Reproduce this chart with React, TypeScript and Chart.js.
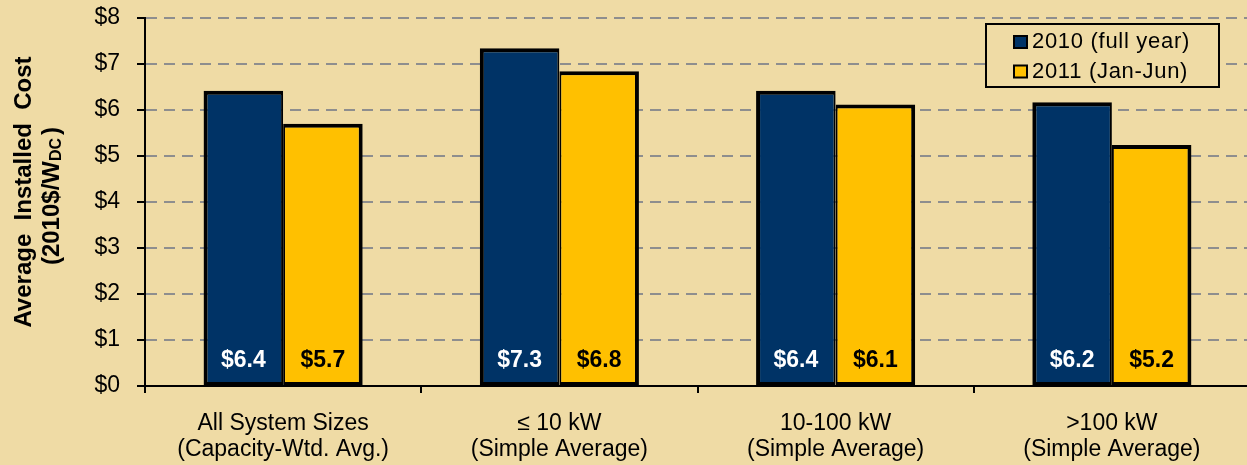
import React, { useEffect, useRef } from 'react';
import { Chart, registerables } from 'chart.js';

Chart.register(...registerables);

// ---- data ----
const categories: string[][] = [
  ['All System Sizes', '(Capacity-Wtd. Avg.)'],
  ['≤ 10 kW', '(Simple Average)'],
  ['10-100 kW', '(Simple Average)'],
  ['>100 kW', '(Simple Average)'],
];
const seriesNames = ['2010 (full year)', '2011 (Jan-Jun)'];
const values2010 = [6.42, 7.34, 6.42, 6.17];
const values2011 = [5.7, 6.84, 6.12, 5.24];
const yTickLabels = ['$0', '$1', '$2', '$3', '$4', '$5', '$6', '$7', '$8'];
const yTitleLine1 = 'Average  Installed  Cost';
const yTitleUnit = ['(2010$/W', 'DC', ')'];

// ---- styles ----
const BG = '#EFDBA5';
const NAVY = '#003366';
const GOLD = '#FFC000';
const GRID = '#8E8E8E';
const LABEL_COLORS = ['#FFFFFF', '#000000'];
const FONT = "'Liberation Sans', Arial, Helvetica, sans-serif";

const valueLabelPlugin = {
  id: 'valueLabels',
  afterDatasetsDraw(chart: any) {
    const { ctx } = chart;
    const yScale = chart.scales.y;
    const y0 = yScale.getPixelForValue(0);
    ctx.save();
    ctx.font = `bold 23px ${FONT}`;
    ctx.textAlign = 'center';
    ctx.textBaseline = 'middle';
    chart.data.datasets.forEach((ds: any, di: number) => {
      const meta = chart.getDatasetMeta(di);
      meta.data.forEach((el: any, i: number) => {
        ctx.fillStyle = LABEL_COLORS[di];
        ctx.fillText('$' + Number(ds.data[i]).toFixed(1), el.x, y0 - 25);
      });
    });
    ctx.restore();
  },
};

const yTitlePlugin = {
  id: 'yTitle',
  afterDraw(chart: any) {
    const { ctx, chartArea } = chart;
    const cy = (chartArea.top + chartArea.bottom) / 2;
    ctx.save();
    ctx.fillStyle = '#000';
    ctx.textBaseline = 'middle';
    // line 1
    ctx.save();
    ctx.translate(24, cy - 10);
    ctx.rotate(-Math.PI / 2);
    ctx.font = `bold 24px ${FONT}`;
    ctx.textAlign = 'center';
    ctx.fillText(yTitleLine1, 0, 0);
    ctx.restore();
    // line 2 with subscript
    ctx.save();
    ctx.translate(52, cy - 6);
    ctx.rotate(-Math.PI / 2);
    ctx.textAlign = 'left';
    const mainFont = `bold 24px ${FONT}`;
    const subFont = `bold 16px ${FONT}`;
    ctx.font = mainFont;
    const w1 = ctx.measureText(yTitleUnit[0]).width;
    const w3 = ctx.measureText(yTitleUnit[2]).width;
    ctx.font = subFont;
    const w2 = ctx.measureText(yTitleUnit[1]).width + 3;
    let x = -(w1 + w2 + w3) / 2;
    ctx.font = mainFont;
    ctx.fillText(yTitleUnit[0], x, 0);
    x += w1;
    ctx.font = subFont;
    ctx.fillText(yTitleUnit[1], x, 5);
    x += w2;
    ctx.font = mainFont;
    ctx.fillText(yTitleUnit[2], x, 0);
    ctx.restore();
    ctx.restore();
  },
};

const legendPlugin = {
  id: 'boxLegend',
  afterDraw(chart: any) {
    const { ctx, chartArea } = chart;
    const right = chartArea.right - 31;
    const top = chartArea.top + 6;
    const w = 233;
    const h = 63;
    const left = right - w;
    ctx.save();
    ctx.fillStyle = BG;
    ctx.fillRect(left, top, w, h);
    ctx.lineWidth = 2;
    ctx.strokeStyle = '#000';
    ctx.strokeRect(left, top, w, h);
    ctx.font = `22px ${FONT}`;
    (ctx as any).letterSpacing = '0.7px';
    ctx.textAlign = 'left';
    ctx.textBaseline = 'middle';
    chart.data.datasets.forEach((ds: any, i: number) => {
      const cy = top + 18 + i * 29.5;
      ctx.fillStyle = ds.backgroundColor;
      ctx.fillRect(left + 28, cy - 6, 13, 12);
      ctx.lineWidth = 2;
      ctx.strokeStyle = '#000';
      ctx.strokeRect(left + 28, cy - 6, 13, 12);
      ctx.fillStyle = '#000';
      ctx.fillText(ds.label, left + 46, cy);
    });
    ctx.restore();
  },
};

export default function App() {
  const ref = useRef<HTMLCanvasElement | null>(null);

  useEffect(() => {
    document.body.style.background = BG;
    const canvas = ref.current!;
    Chart.defaults.font.family = FONT;
    const chart = new Chart(canvas, {
      type: 'bar',
      data: {
        labels: categories,
        datasets: [
          {
            label: seriesNames[0],
            data: values2010,
            backgroundColor: NAVY,
            borderColor: '#000',
            borderWidth: { left: 4, top: 4, right: 2, bottom: 3 },
            borderSkipped: false,
            categoryPercentage: 0.576,
            barPercentage: 1,
          },
          {
            label: seriesNames[1],
            data: values2011,
            backgroundColor: GOLD,
            borderColor: '#000',
            borderWidth: { left: 2, top: 4, right: 4, bottom: 3 },
            borderSkipped: false,
            categoryPercentage: 0.576,
            barPercentage: 1,
          },
        ],
      },
      options: {
        responsive: false,
        maintainAspectRatio: false,
        animation: false,
        devicePixelRatio: 1,
        layout: { padding: { left: 0, right: 10, top: 18, bottom: 0 } },
        plugins: {
          legend: { display: false },
          tooltip: { enabled: false },
          title: { display: false },
        },
        scales: {
          x: {
            offset: true,
            grid: {
              display: true,
              offset: true,
              drawOnChartArea: false,
              drawTicks: true,
              tickLength: 7,
              tickColor: '#000',
              tickWidth: 2,
              color: '#000',
              lineWidth: 2,
            },
            border: { display: true, color: '#000', width: 2 },
            ticks: {
              color: '#000',
              font: { size: 23, lineHeight: 1.16 },
              padding: 17,
              maxRotation: 0,
              autoSkip: false,
            },
            afterFit: (s: any) => {
              s.height = 79;
              s.paddingLeft = 0;
              s.paddingRight = 0;
            },
          },
          y: {
            min: 0,
            max: 8,
            ticks: {
              stepSize: 1,
              color: '#000',
              font: { size: 23 },
              padding: 17,
              callback: (v: any) => yTickLabels[Number(v)] ?? '',
            },
            grid: {
              color: (c: any) => (c.tick && c.tick.value === 0 ? 'rgba(0,0,0,0)' : GRID),
              lineWidth: 2,
              tickLength: 8,
              tickColor: '#000',
              tickWidth: 2,
              tickBorderDash: [],
            },
            border: { display: true, color: '#000', width: 2, dash: [11, 7] },
            afterFit: (s: any) => {
              s.width = 145;
              s.paddingTop = 0;
              s.paddingBottom = 0;
            },
          },
        },
      } as any,
      plugins: [valueLabelPlugin, yTitlePlugin, legendPlugin],
    });
    return () => chart.destroy();
  }, []);

  return (
    <div
      style={{
        position: 'fixed',
        left: 0,
        top: 0,
        width: 1247,
        height: 465,
        overflow: 'hidden',
        background: BG,
      }}
    >
      <canvas
        ref={ref}
        width={1260}
        height={465}
        style={{ width: '1260px', height: '465px', display: 'block' }}
      />
    </div>
  );
}
